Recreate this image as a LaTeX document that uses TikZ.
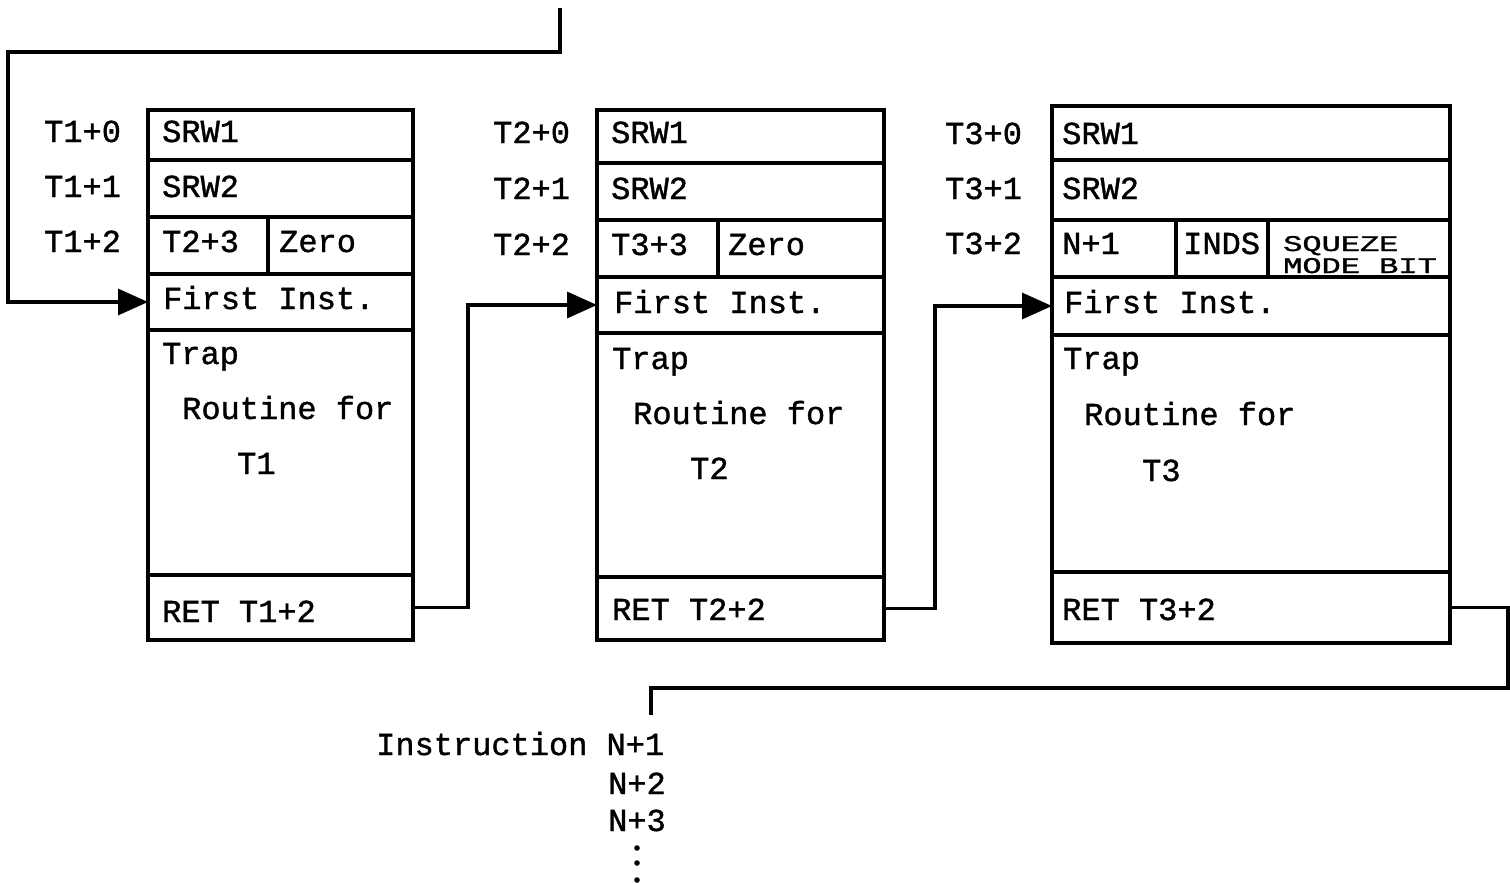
\documentclass[tikz,border=0pt]{standalone}
\usepackage{fontspec}
\usepackage{graphicx}
\setmonofont[FakeBold=1.2]{Liberation Mono}
\usetikzlibrary{arrows.meta}
\begin{document}
\begin{tikzpicture}[x=1pt,y=-1pt,
  cell/.style={draw, line width=3.5pt, inner sep=0pt, outer sep=0pt, anchor=north west},
  txt/.style={anchor=base west, inner sep=0pt, font=\ttfamily\fontsize{32}{36}\selectfont},
  link/.style={line width=3.5pt},
  arr/.style={link, -{Triangle[length=30pt,width=26pt]}}]
\useasboundingbox (0,0) rectangle (1510,883);
% ---- box 1
\node[cell, minimum width=265pt, minimum height=50pt]  (b1a)  at (148,110) {};
\node[cell, minimum width=265pt, minimum height=57pt]  (b1b)  at (148,160) {};
\node[cell, minimum width=120pt, minimum height=57pt]  (b1c1) at (148,217) {};
\node[cell, minimum width=145pt, minimum height=57pt]  (b1c2) at (268,217) {};
\node[cell, minimum width=265pt, minimum height=56pt]  (b1d)  at (148,274) {};
\node[cell, minimum width=265pt, minimum height=245pt] (b1e)  at (148,330) {};
\node[cell, minimum width=265pt, minimum height=65pt]  (b1f)  at (148,575) {};
% ---- box 2
\node[cell, minimum width=287pt, minimum height=53pt]  (b2a)  at (597,110) {};
\node[cell, minimum width=287pt, minimum height=57pt]  (b2b)  at (597,163) {};
\node[cell, minimum width=121pt, minimum height=57pt]  (b2c1) at (597,220) {};
\node[cell, minimum width=166pt, minimum height=57pt]  (b2c2) at (718,220) {};
\node[cell, minimum width=287pt, minimum height=56pt]  (b2d)  at (597,277) {};
\node[cell, minimum width=287pt, minimum height=244pt] (b2e)  at (597,333) {};
\node[cell, minimum width=287pt, minimum height=63pt]  (b2f)  at (597,577) {};
% ---- box 3
\node[cell, minimum width=398pt, minimum height=54pt]  (b3a)  at (1052,106) {};
\node[cell, minimum width=398pt, minimum height=60pt]  (b3b)  at (1052,160) {};
\node[cell, minimum width=124pt, minimum height=57pt]  (b3c1) at (1052,220) {};
\node[cell, minimum width=92pt,  minimum height=57pt]  (b3c2) at (1176,220) {};
\node[cell, minimum width=182pt, minimum height=57pt]  (b3c3) at (1268,220) {};
\node[cell, minimum width=398pt, minimum height=58pt]  (b3d)  at (1052,277) {};
\node[cell, minimum width=398pt, minimum height=237pt] (b3e)  at (1052,335) {};
\node[cell, minimum width=398pt, minimum height=71pt]  (b3f)  at (1052,572) {};
% ---- texts box 1
\node[txt] (l10) at (44,142) {T1+0};
\node[txt] (l11) at (44,197) {T1+1};
\node[txt] (l12) at (44,252) {T1+2};
\node[txt] (t1a) at (162,142) {SRW1};
\node[txt] (t1b) at (162,197) {SRW2};
\node[txt] (t1c) at (162,252) {T2+3};
\node[txt] (t1z) at (279,252) {Zero};
\node[txt] (t1d) at (163,309) {First Inst.};
\node[txt] (t1e) at (162,364) {Trap};
\node[txt] (t1r) at (182,419) {Routine for};
\node[txt] (t1t) at (237,474) {T1};
\node[txt] (t1f) at (162,622) {RET T1+2};
% ---- texts box 2
\node[txt] (l20) at (493,143) {T2+0};
\node[txt] (l21) at (493,199) {T2+1};
\node[txt] (l22) at (493,255) {T2+2};
\node[txt] (t2a) at (611,143) {SRW1};
\node[txt] (t2b) at (611,199) {SRW2};
\node[txt] (t2c) at (611,255) {T3+3};
\node[txt] (t2z) at (728,255) {Zero};
\node[txt] (t2d) at (614,313) {First Inst.};
\node[txt] (t2e) at (612,369) {Trap};
\node[txt] (t2r) at (633,424) {Routine for};
\node[txt] (t2t) at (690,479) {T2};
\node[txt] (t2f) at (612,620) {RET T2+2};
% ---- texts box 3
\node[txt] (l30) at (945,144) {T3+0};
\node[txt] (l31) at (945,199) {T3+1};
\node[txt] (l32) at (945,254) {T3+2};
\node[txt] (t3a) at (1062,144) {SRW1};
\node[txt] (t3b) at (1062,199) {SRW2};
\node[txt] (t3c) at (1062,254) {N+1};
\node[txt] (t3i) at (1183,254) {INDS};
\node[txt] (t3s) at (1283,251) {\scalebox{1}[0.7]{SQUEZE}};
\node[txt] (t3m) at (1283,273) {\scalebox{1}[0.7]{MODE BIT}};
\node[txt] (t3d) at (1064,313) {First Inst.};
\node[txt] (t3e) at (1063,369) {Trap};
\node[txt] (t3r) at (1084,425) {Routine for};
\node[txt] (t3t) at (1142,481) {T3};
\node[txt] (t3f) at (1062,620) {RET T3+2};
% ---- instruction list
\node[txt] (ins1) at (376,755) {Instruction N+1};
\node[txt] (ins2) at (608,794) {N+2};
\node[txt] (ins3) at (608,831) {N+3};
\fill (637,848) circle (2.8pt) (637,863) circle (2.8pt) (637,880) circle (2.8pt);
% ---- connectors
\coordinate (entry) at (560,8);
\coordinate (exitpt) at (651,715);
\draw[arr] (entry) -- (560,52) -- (8,52) |- (b1d.west);
\draw[arr] (b1f.east) -- ++(55,0) |- (b2d.west);
\draw[arr] (b2f.east) -- ++(51,0) |- (b3d.west);
\draw[link] (b3f.east) -- (1508,607.5) -- (1508,688) -| (exitpt);
\end{tikzpicture}
\end{document}
